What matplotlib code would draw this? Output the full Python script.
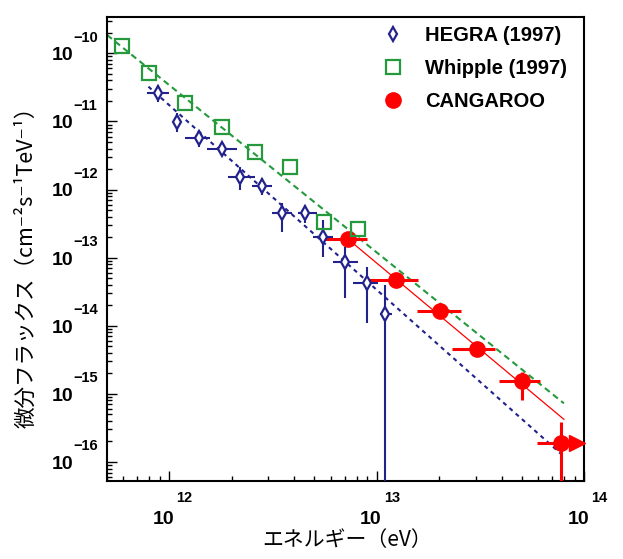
import matplotlib
matplotlib.use('Agg')
import matplotlib.pyplot as plt
import matplotlib.transforms as mtransforms
from matplotlib.lines import Line2D
from matplotlib.font_manager import FontProperties
import numpy as np

# ---------------- data ----------------
hegra_E = np.array([8.85e11, 1.09e12, 1.39e12, 1.79e12, 2.2e12, 2.79e12, 3.49e12, 4.49e12, 5.49e12, 7.06e12, 9.0e12, 1.1e13])
hegra_F = np.array([2.64e-11, 9.9e-12, 5.65e-12, 3.94e-12, 1.54e-12, 1.14e-12, 4.56e-13, 4.47e-13, 2.03e-13, 8.7e-14, 4.2e-14, 1.49e-14])
hegra_Elo = np.array([7.78e11, 1.09e12, 1.19e12, 1.51e12, 1.91e12, 2.5e12, 3.13e12, 4.19e12, 4.94e12, 6.15e12, 7.71e12, 1.04e13])
hegra_Ehi = np.array([1.0e12, 1.09e12, 1.57e12, 2.12e12, 2.59e12, 3.12e12, 3.9e12, 5.15e12, 6.17e12, 8.09e12, 1.02e13, 1.18e13])
hegra_Flo = np.array([1.94e-11, 7.06e-12, 4.25e-12, 3.94e-12, 9.84e-13, 8.3e-13, 2.4e-13, 3.2e-13, 1.03e-13, 2.52e-14, 1.11e-14, 1e-17])
hegra_Fhi = np.array([3.43e-11, 1.33e-11, 7.46e-12, 3.94e-12, 2.16e-12, 1.47e-12, 6.34e-13, 5.9e-13, 3.56e-13, 1.45e-13, 7.28e-14, 3.95e-14])

whipple_E = np.array([5.9e11, 8.0e11, 1.19e12, 1.79e12, 2.6e12, 3.8e12, 5.55e12, 8.13e12])
whipple_F = np.array([1.28e-10, 5.19e-11, 1.84e-11, 8.35e-12, 3.51e-12, 2.16e-12, 3.36e-13, 2.6e-13])

cang_E = np.array([7.3e12, 1.245e13, 2.03e13, 3.06e13, 5.04e13, 7.71e13])
cang_F = np.array([1.86e-13, 4.69e-14, 1.64e-14, 4.55e-15, 1.54e-15, 1.91e-16])
cang_Elo = np.array([5.65e12, 9.0e12, 1.57e13, 2.31e13, 3.88e13, 5.96e13])
cang_Ehi = np.array([9.0e12, 1.58e13, 2.54e13, 3.74e13, 6.12e13, 7.71e13])
cang_Flo = np.array([1.86e-13, 4.69e-14, 1.64e-14, 4.55e-15, 8.1e-16, 1e-17])
cang_Fhi = np.array([1.86e-13, 4.69e-14, 1.64e-14, 4.55e-15, 2.11e-15, 3.9e-16])

# power-law fit lines (end points)
hegra_fit_E = [7.92e11, 7.87e13]
hegra_fit_F = [3.24e-11, 1.26e-16]
whipple_fit_E = [5.0e11, 8.0e13]
whipple_fit_F = [1.86e-10, 7.26e-16]
cang_fit_E = [7.0e12, 8.0e13]
cang_fit_F = [2.06e-13, 4.23e-16]

labels = ['HEGRA (1997)', 'Whipple (1997)', 'CANGAROO']
x_exponents = [12, 13, 14]
y_exponents = [-10, -11, -12, -13, -14, -15, -16]
xlabel = 'エネルギー（eV）'
ylabel = '微分フラックス（cm⁻²s⁻¹TeV⁻¹）'

BLUE = '#22228c'
GREEN = '#259a3c'
RED = '#ff0000'

# ---------------- figure ----------------
fig = plt.figure(figsize=(6.23, 5.59), dpi=100)
ax = fig.add_axes([0.17175, 0.13953, 0.76565, 0.83005])
ax.set_xscale('log')
ax.set_yscale('log')
ax.set_xlim(5e11, 1e14)
ax.set_ylim(5.26e-17, 3.41e-10)

# fit lines
ax.plot(whipple_fit_E, whipple_fit_F, color=GREEN, lw=1.5, ls=(0, (3, 2)), zorder=2)
ax.plot(hegra_fit_E, hegra_fit_F, color=BLUE, lw=1.5, ls=(0, (2, 2)), zorder=2)
ax.plot(cang_fit_E, cang_fit_F, color=RED, lw=0.9, ls='-', zorder=2)

# CANGAROO
ax.errorbar(cang_E, cang_F,
            xerr=[cang_E - cang_Elo, cang_Ehi - cang_E],
            yerr=[cang_F - cang_Flo, cang_Fhi - cang_F],
            fmt='o', ms=11, color=RED, mec=RED, ecolor=RED, elinewidth=2.2,
            capsize=0, zorder=3)
trans = ax.transData + mtransforms.ScaledTranslation(16 / 100, 0, fig.dpi_scale_trans)
ax.plot(cang_E[-1:], cang_F[-1:], marker='>', ms=12, color=RED, ls='none',
        transform=trans, clip_on=False, zorder=3)

# HEGRA
ax.errorbar(hegra_E, hegra_F,
            xerr=[hegra_E - hegra_Elo, hegra_Ehi - hegra_E],
            yerr=[hegra_F - hegra_Flo, hegra_Fhi - hegra_F],
            fmt='d', ms=7, mfc='white', mec=BLUE, mew=1.6, ecolor=BLUE,
            elinewidth=1.5, capsize=0, zorder=4)

# Whipple
ax.plot(whipple_E, whipple_F, ls='none', marker='s', ms=10, mfc='none',
        mec=GREEN, mew=1.6, zorder=5)

# ---------------- axes styling ----------------
for s in ax.spines.values():
    s.set_linewidth(1.5)
ax.tick_params(which='both', direction='in', top=False, right=False,
               labelbottom=False, labelleft=False, width=1.0)
ax.tick_params(which='major', length=7.5)
ax.tick_params(which='minor', length=3.8)

bold_big = dict(family='Liberation Sans', weight='bold', size=14)
bold_small = dict(family='Liberation Sans', weight='bold', size=10.5)
for e in x_exponents:
    ax.annotate('10', xy=(10.0 ** e, 0), xycoords=('data', 'axes fraction'),
                xytext=(5, -42.6), textcoords='offset pixels',
                ha='right', va='baseline', annotation_clip=False, **bold_big)
    ax.annotate(str(e), xy=(10.0 ** e, 0), xycoords=('data', 'axes fraction'),
                xytext=(7, -20.7), textcoords='offset pixels',
                ha='left', va='baseline', annotation_clip=False, **bold_small)
for e in y_exponents:
    ax.annotate('10', xy=(0, 10.0 ** e), xycoords=('axes fraction', 'data'),
                xytext=(-34, -6.95), textcoords='offset pixels',
                ha='right', va='baseline', annotation_clip=False, **bold_big)
    ax.annotate(str(e).replace('-', '\u2212'), xy=(0, 10.0 ** e),
                xycoords=('axes fraction', 'data'),
                xytext=(-33.5, 11.6), textcoords='offset pixels',
                ha='left', va='baseline', annotation_clip=False, **bold_small)

# legend
handles = [
    Line2D([], [], ls='none', marker='d', ms=7, mfc='white', mec=BLUE, mew=1.6),
    Line2D([], [], ls='none', marker='s', ms=10, mfc='none', mec=GREEN, mew=1.6),
    Line2D([], [], ls='none', marker='o', ms=11, color=RED),
]
legend_font = FontProperties(family='Liberation Sans', weight='bold', size=14.5)
ax.legend(handles, labels, loc='upper left', bbox_to_anchor=(0.579, 0.980),
          frameon=False, prop=legend_font, handlelength=0.97,
          handletextpad=1.1, labelspacing=0.7, borderpad=0, borderaxespad=0)

# axis titles
cjk = ['Noto Sans CJK JP', 'DejaVu Sans']
fig.text(347 / 623, 1 - 540 / 559, xlabel, ha='center', va='center',
         family=cjk, fontsize=15)
fig.text(26 / 623, 1 - 262 / 559, ylabel, ha='center', va='center',
         rotation=90, family=cjk, fontsize=15.5)

fig.savefig('out.png', dpi=100)
